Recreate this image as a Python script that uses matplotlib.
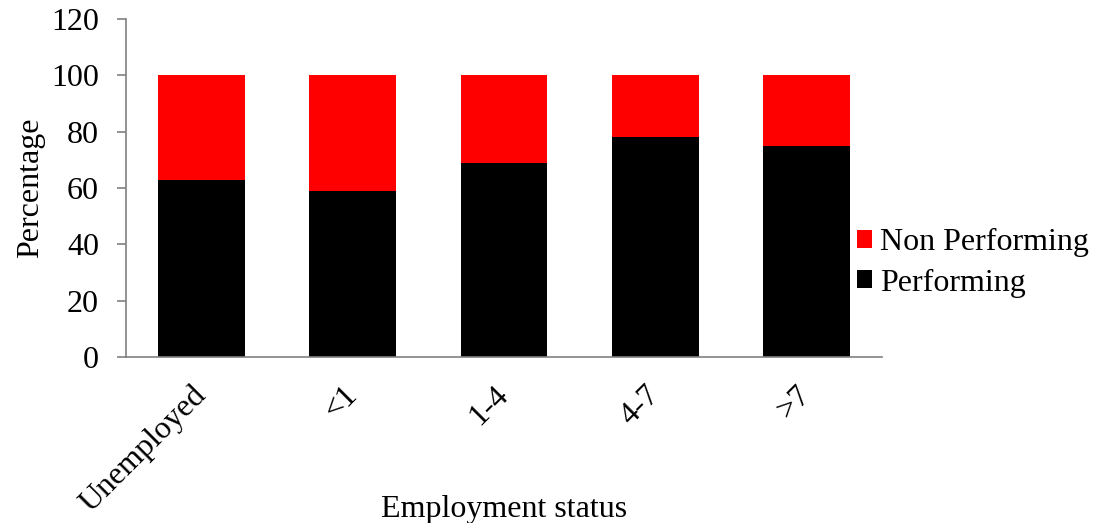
import matplotlib
matplotlib.use("Agg")
import matplotlib.pyplot as plt
from matplotlib.patches import Patch

categories = ["Unemployed", "<1", "1-4", "4-7", ">7"]
performing = [63, 59, 69, 78, 75]
non_performing = [37, 41, 31, 22, 25]
yticks = [0, 20, 40, 60, 80, 100, 120]

plt.rcParams["font.family"] = ["Liberation Serif", "DejaVu Serif"]
plt.rcParams["font.size"] = 23

fig = plt.figure(figsize=(10.94, 5.23), dpi=100)
ax = fig.add_axes([126 / 1094, 1 - 357 / 523, (882 - 126) / 1094, (357 - 19) / 523])

x = range(len(categories))
width = 0.575
ax.bar(x, performing, width, color="black", label="Performing")
ax.bar(x, non_performing, width, bottom=performing, color="#ff0000", label="Non Performing")

ax.set_xlim(-0.5, len(categories) - 0.5)
ax.set_ylim(0, 120)
ax.set_yticks(yticks)
ax.set_xticks(list(x))
ax.set_xticklabels(categories, rotation=45, ha="right", va="center", rotation_mode="anchor")

for side in ("top", "right"):
    ax.spines[side].set_visible(False)
for side in ("left", "bottom"):
    ax.spines[side].set_color("#808080")
    ax.spines[side].set_linewidth(1.2)
ax.tick_params(axis="y", direction="out", length=6.5, width=1.2, color="#808080", pad=13)
ax.tick_params(axis="x", length=0, pad=24)

ax.set_ylabel("Percentage", labelpad=4)
ax.set_xlabel("Employment status")
ax.xaxis.set_label_coords(0.5, -(495 - 357) / 338)

handles = [Patch(facecolor="#ff0000", label="Non Performing"),
           Patch(facecolor="black", label="Performing")]
fig.legend(handles=handles, loc="center left", bbox_to_anchor=(857 / 1094, 1 - 263 / 523),
           frameon=False, handlelength=0.47, handleheight=0.5, handletextpad=0.25,
           labelspacing=0.35, borderaxespad=0, borderpad=0)

fig.savefig("out.png", dpi=100)
